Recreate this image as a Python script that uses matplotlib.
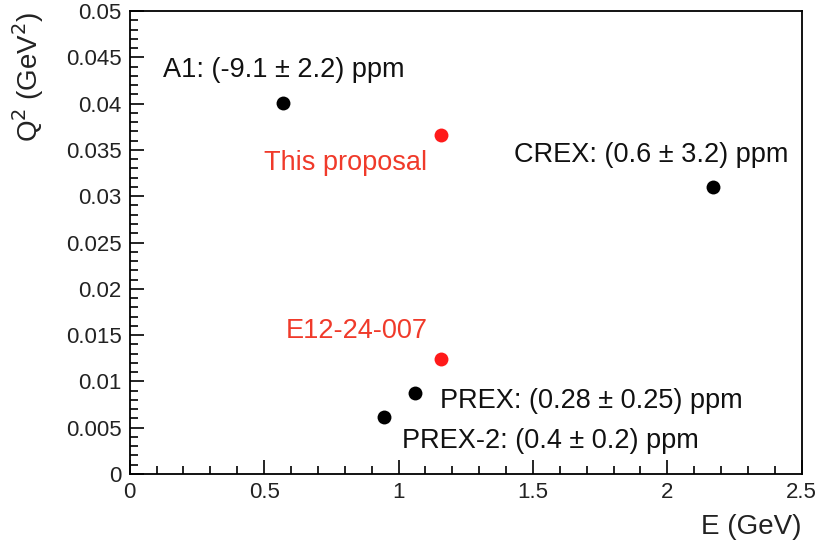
import matplotlib
matplotlib.use('Agg')
import matplotlib.pyplot as plt
from matplotlib.ticker import MultipleLocator, FormatStrFormatter

plt.rcParams['font.family'] = ['Liberation Sans', 'DejaVu Sans']

# measured experiments (black) and proposals (red)
exp_names  = ["A1", "CREX", "PREX", "PREX-2"]
exp_E      = [0.57, 2.17, 1.06, 0.945]
exp_Q2     = [0.0401, 0.0310, 0.00875, 0.00616]
exp_labels = ["A1: (-9.1 ± 2.2) ppm", "CREX: (0.6 ± 3.2) ppm",
              "PREX: (0.28 ± 0.25) ppm", "PREX-2: (0.4 ± 0.2) ppm"]
exp_label_xy = [(0.124, 0.0436), (1.43, 0.0344), (1.154, 0.0079), (1.012, 0.0036)]

prop_E      = [1.157, 1.157]
prop_Q2     = [0.0366, 0.0124]
prop_labels = ["This proposal", "E12-24-007"]
prop_label_xy = [(1.106, 0.0336), (1.108, 0.0154)]

fig = plt.figure(figsize=(8.29, 5.40), dpi=100)
ax = fig.add_axes([0.1565, 0.1222, 0.8105, 0.8574])

ax.plot(exp_E, exp_Q2, 'o', color='black', ms=10, mec='none')
ax.plot(prop_E, prop_Q2, 'o', color='#ff1a1a', ms=10, mec='none')

for (tx, ty), lab in zip(exp_label_xy, exp_labels):
    ax.text(tx, ty, lab, fontsize=19.5, color='#111111', ha='left', va='center')
for (tx, ty), lab in zip(prop_label_xy, prop_labels):
    ax.text(tx, ty, lab, fontsize=19.5, color='#f03a2a', ha='right', va='center')

ax.set_xlim(0, 2.5)
ax.set_ylim(0, 0.05)
ax.xaxis.set_major_locator(MultipleLocator(0.5))
ax.xaxis.set_minor_locator(MultipleLocator(0.1))
ax.yaxis.set_major_locator(MultipleLocator(0.005))
ax.yaxis.set_minor_locator(MultipleLocator(0.001))
ax.xaxis.set_major_formatter(FormatStrFormatter('%g'))
ax.yaxis.set_major_formatter(FormatStrFormatter('%g'))
ax.tick_params(which='both', direction='in', top=False, right=False,
               labelsize=16, labelcolor='#222222', width=1.2)
ax.tick_params(which='major', length=10)
ax.tick_params(which='minor', length=6)
ax.tick_params(axis='y', pad=6)
ax.tick_params(axis='x', pad=6)
for sp in ax.spines.values():
    sp.set_linewidth(1.3)

ax.set_xlabel('E (GeV)', fontsize=20, loc='right', color='#222222', labelpad=8)
ax.set_ylabel('Q$^2$ (GeV$^2$)', fontsize=20, loc='top', color='#222222', labelpad=14)

fig.savefig('out.png', dpi=100)
